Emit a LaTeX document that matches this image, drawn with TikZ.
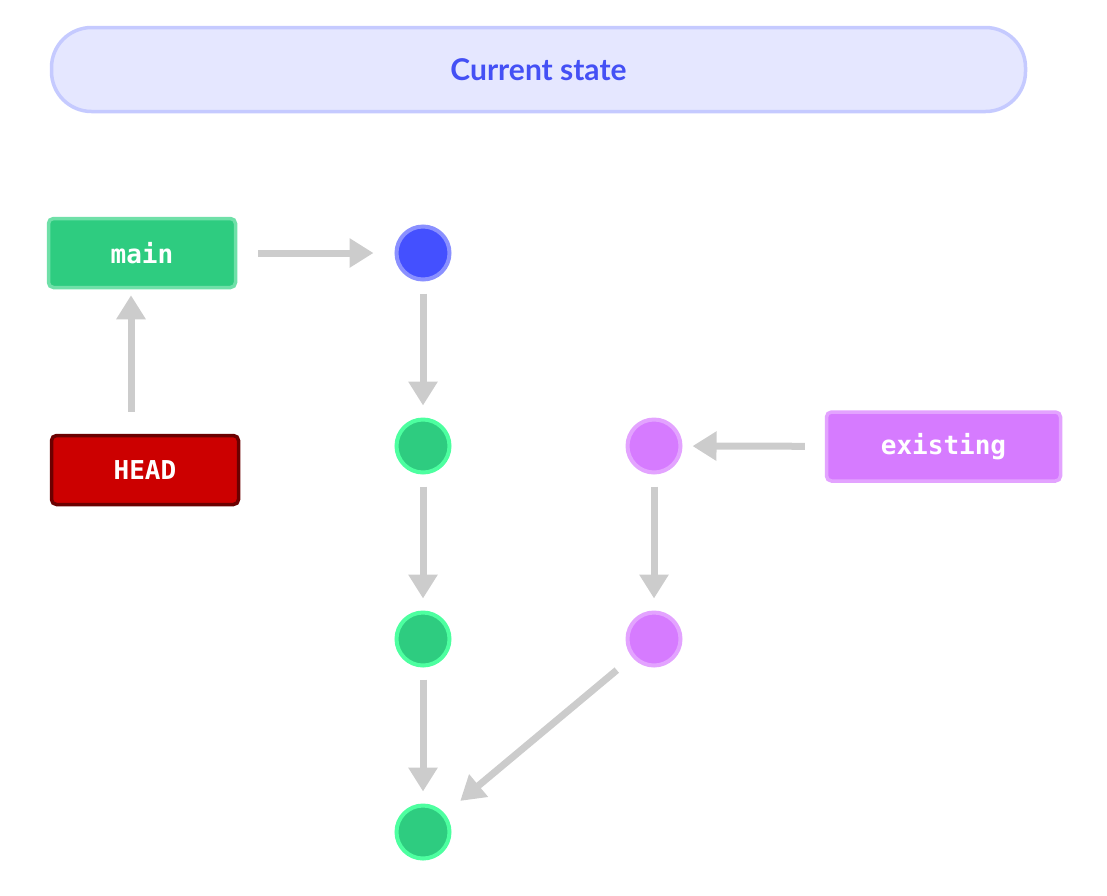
\documentclass[tikz,border=0pt]{standalone}
\usepackage{fontspec}
\setmainfont{Lato}
\setmonofont{DejaVu Sans Mono}
\usetikzlibrary{arrows.meta}
\definecolor{tfill}{HTML}{E5E7FF}\definecolor{tdraw}{HTML}{C5CAFF}\definecolor{ttext}{HTML}{4450F5}
\definecolor{gfill}{HTML}{2ECC80}\definecolor{gdraw}{HTML}{6FE0A8}\definecolor{gring}{HTML}{4DFFA0}
\definecolor{rfill}{HTML}{CC0000}\definecolor{rdraw}{HTML}{6B0000}
\definecolor{pfill}{HTML}{D67BFF}\definecolor{pdraw}{HTML}{E3A3FF}
\definecolor{bfill}{HTML}{4450FF}\definecolor{bdraw}{HTML}{8A90FF}
\definecolor{arr}{HTML}{CCCCCC}
\begin{document}
\begin{tikzpicture}[x=1pt,y=-1pt,
 box/.style={rounded corners=5pt,line width=3.5pt,minimum width=187pt,minimum height=69pt,text=white,font=\ttfamily\bfseries\fontsize{26}{26}\selectfont},
 commit/.style={circle,line width=4pt,minimum size=53pt,inner sep=0pt},
 ar/.style={draw=arr,line width=7pt,-{Triangle[length=24pt,width=28pt]}}]
\useasboundingbox (0,0) rectangle (1107,895);
\node[draw=tdraw,fill=tfill,line width=3.5pt,rounded corners=40pt,minimum width=974pt,minimum height=84pt,text=ttext,font=\bfseries\fontsize{30}{30}\selectfont] (title) at (538.5,69.5) {Current state};
\node[box,draw=gdraw,fill=gfill] (main) at (142,253) {main};
\node[box,draw=rdraw,fill=rfill] (head) at (145,470) {HEAD};
\node[box,draw=pdraw,fill=pfill,minimum width=234pt] (ex) at (943.5,446.5) {existing};
\node[commit,draw=bdraw,fill=bfill] (c0) at (423,253) {};
\node[commit,draw=gring,fill=gfill] (c1) at (423,446) {};
\node[commit,draw=gring,fill=gfill] (c2) at (423,639) {};
\node[commit,draw=gring,fill=gfill] (c3) at (423,832) {};
\node[commit,draw=pdraw,fill=pfill] (p1) at (654,446) {};
\node[commit,draw=pdraw,fill=pfill] (p2) at (654,639) {};
\draw[ar,shorten <=21pt,shorten >=21pt] (main) -- (c0);
\draw[ar,shorten <=12pt,shorten >=12pt] (c0) -- (c1);
\draw[ar,shorten <=12pt,shorten >=12pt] (c1) -- (c2);
\draw[ar,shorten <=12pt,shorten >=12pt] (c2) -- (c3);
\draw[ar,shorten <=12pt,shorten >=12pt] (p1) -- (p2);
\draw[ar,shorten <=20pt,shorten >=10pt] (ex) -- (p1);
\draw[ar,shorten <=22pt,shorten >=6pt] (head.north -| 131,0) -- (main.south -| 131,0);
\draw[ar,shorten <=20pt,shorten >=20pt] (p2) -- (c3);
\end{tikzpicture}
\end{document}
